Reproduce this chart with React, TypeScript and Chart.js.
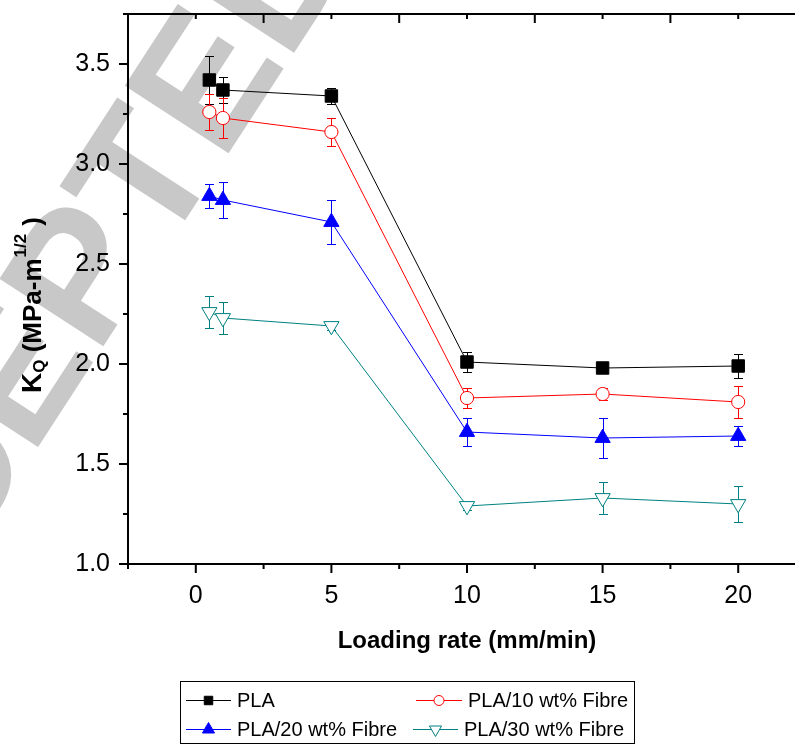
import React, { useEffect, useRef } from 'react';
import { Chart, registerables } from 'chart.js';

Chart.register(...registerables);

// ---------- data ----------
const loadingRates = [0.5, 1, 5, 10, 15, 20];

const plaValues = [3.42, 3.37, 3.34, 2.01, 1.98, 1.99];
const plaErrors = [0.12, 0.065, 0.04, 0.05, 0.01, 0.06];

const pla10Values = [3.26, 3.23, 3.16, 1.83, 1.85, 1.81];
const pla10Errors = [0.09, 0.1, 0.07, 0.05, 0.03, 0.08];

const pla20Values = [2.84, 2.82, 2.71, 1.66, 1.63, 1.64];
const pla20Errors = [0.06, 0.09, 0.11, 0.07, 0.1, 0.05];

const pla30Values = [2.26, 2.23, 2.19, 1.29, 1.33, 1.3];
const pla30Errors = [0.08, 0.08, 0.02, 0.02, 0.08, 0.09];

const seriesNames = ['PLA', 'PLA/10 wt% Fibre', 'PLA/20 wt% Fibre', 'PLA/30 wt% Fibre'];

const xMajorTicks = [0, 5, 10, 15, 20];
const xMinorTicks = [-2.5, 2.5, 7.5, 12.5, 17.5, 22.5];
const yMajorTicks = [1.0, 1.5, 2.0, 2.5, 3.0, 3.5];
const yMinorTicks = [1.25, 1.75, 2.25, 2.75, 3.25, 3.75];

const xTitle = 'Loading rate (mm/min)';
const watermarkText = 'ACCEPTED MANUSCRIPT';

// ---------- styles ----------
const FONT = '"Liberation Sans", Arial, Helvetica, sans-serif';

type Series = {
  name: string;
  values: number[];
  errors: number[];
  color: string;
  shape: 'rect' | 'circle' | 'triangle';
  filled: boolean;
  radius: number;
  rotation: number;
};

const series: Series[] = [
  { name: seriesNames[0], values: plaValues, errors: plaErrors, color: '#000000', shape: 'rect', filled: true, radius: 8.8, rotation: 0 },
  { name: seriesNames[1], values: pla10Values, errors: pla10Errors, color: '#FF0000', shape: 'circle', filled: false, radius: 6.6, rotation: 0 },
  { name: seriesNames[2], values: pla20Values, errors: pla20Errors, color: '#0000FF', shape: 'triangle', filled: true, radius: 8.8, rotation: 0 },
  { name: seriesNames[3], values: pla30Values, errors: pla30Errors, color: '#008080', shape: 'triangle', filled: false, radius: 8.8, rotation: 180 },
];

function drawMarker(ctx: CanvasRenderingContext2D, s: Series, x: number, y: number, r: number) {
  ctx.save();
  ctx.beginPath();
  if (s.shape === 'rect') {
    const h = r * Math.SQRT1_2;
    ctx.rect(x - h, y - h, 2 * h, 2 * h);
  } else if (s.shape === 'circle') {
    ctx.arc(x, y, r, 0, Math.PI * 2);
  } else {
    let a = (s.rotation * Math.PI) / 180;
    for (let i = 0; i < 3; i++) {
      const px = x + Math.sin(a) * r;
      const py = y - Math.cos(a) * r;
      if (i === 0) ctx.moveTo(px, py);
      else ctx.lineTo(px, py);
      a += (2 * Math.PI) / 3;
    }
    ctx.closePath();
  }
  ctx.fillStyle = s.filled ? s.color : '#ffffff';
  ctx.fill();
  ctx.strokeStyle = s.color;
  ctx.lineWidth = 1;
  ctx.stroke();
  ctx.restore();
}

const watermarkPlugin = {
  id: 'watermark',
  beforeDraw(chart: any) {
    const ctx: CanvasRenderingContext2D = chart.ctx;
    ctx.save();
    ctx.translate(-181, 784);
    ctx.rotate((-57 * Math.PI) / 180);
    ctx.font = `bold 180px ${FONT}`;
    ctx.fillStyle = '#c8c8c8';
    ctx.textAlign = 'left';
    ctx.textBaseline = 'alphabetic';
    ctx.fillText(watermarkText, 0, 0);
    ctx.restore();
  },
};

const errorBarPlugin = {
  id: 'errorBars',
  beforeDatasetsDraw(chart: any) {
    const ctx: CanvasRenderingContext2D = chart.ctx;
    const xs = chart.scales.x;
    const ys = chart.scales.y;
    series.forEach((s) => {
      ctx.save();
      ctx.strokeStyle = s.color;
      ctx.lineWidth = 1;
      s.values.forEach((v, j) => {
        const px = Math.round(xs.getPixelForValue(loadingRates[j])) + 0.5;
        const yt = Math.round(ys.getPixelForValue(v + s.errors[j])) + 0.5;
        const yb = Math.round(ys.getPixelForValue(v - s.errors[j])) + 0.5;
        ctx.beginPath();
        ctx.moveTo(px, yt);
        ctx.lineTo(px, yb);
        ctx.moveTo(px - 4.5, yt);
        ctx.lineTo(px + 4.5, yt);
        ctx.moveTo(px - 4.5, yb);
        ctx.lineTo(px + 4.5, yb);
        ctx.stroke();
      });
      ctx.restore();
    });
  },
};

const framePlugin = {
  id: 'frame',
  afterDraw(chart: any) {
    const ctx: CanvasRenderingContext2D = chart.ctx;
    const { left, right, top, bottom } = chart.chartArea;
    const xs = chart.scales.x;
    const ys = chart.scales.y;
    ctx.save();
    ctx.strokeStyle = '#000';
    ctx.lineWidth = 2;
    ctx.beginPath();
    ctx.moveTo(left, top - 1);
    ctx.lineTo(left, bottom + 1);
    ctx.moveTo(left - 1, bottom);
    ctx.lineTo(right + 1, bottom);
    ctx.moveTo(left - 1, top);
    ctx.lineTo(right + 1, top);
    xMajorTicks.forEach((v) => {
      const p = xs.getPixelForValue(v);
      ctx.moveTo(p, bottom);
      ctx.lineTo(p, bottom + 9);
      ctx.moveTo(p, top);
      ctx.lineTo(p, top + 5);
    });
    xMinorTicks.forEach((v) => {
      const p = xs.getPixelForValue(v);
      ctx.moveTo(p, bottom);
      ctx.lineTo(p, bottom + 5);
      ctx.moveTo(p, top);
      ctx.lineTo(p, top + 9);
    });
    yMajorTicks.forEach((v) => {
      const p = ys.getPixelForValue(v);
      ctx.moveTo(left, p);
      ctx.lineTo(left - 9, p);
    });
    yMinorTicks.forEach((v) => {
      const p = ys.getPixelForValue(v);
      ctx.moveTo(left, p);
      ctx.lineTo(left - 5, p);
    });
    ctx.stroke();
    ctx.restore();
  },
};

const titlesPlugin = {
  id: 'titles',
  afterDraw(chart: any) {
    const ctx: CanvasRenderingContext2D = chart.ctx;
    const { left, right } = chart.chartArea;
    ctx.save();
    ctx.fillStyle = '#000';
    ctx.font = `bold 24px ${FONT}`;
    ctx.textAlign = 'center';
    ctx.textBaseline = 'alphabetic';
    ctx.fillText(xTitle, (left + right) / 2, 648);

    // y title with subscript / superscript, read bottom-to-top
    const parts = [
      { t: 'K', size: 28, dy: 0, gap: 0 },
      { t: 'Q', size: 17, dy: 4, gap: 0 },
      { t: ' (MPa-m', size: 26, dy: 0, gap: 0 },
      { t: '1/2', size: 17, dy: -15, gap: 1 },
      { t: ')', size: 26, dy: 0, gap: 8 },
    ];
    ctx.translate(41, 393);
    ctx.rotate(-Math.PI / 2);
    ctx.textAlign = 'left';
    let x = 0;
    parts.forEach((p) => {
      x += p.gap;
      ctx.font = `bold ${p.size}px ${FONT}`;
      ctx.fillText(p.t, x, p.dy);
      x += ctx.measureText(p.t).width;
    });
    ctx.restore();
  },
};

const legendPlugin = {
  id: 'customLegend',
  afterDraw(chart: any) {
    const ctx: CanvasRenderingContext2D = chart.ctx;
    ctx.save();
    ctx.strokeStyle = '#000';
    ctx.lineWidth = 1;
    ctx.strokeRect(180.5, 681.5, 454, 62);
    const slots = [
      { x0: 186, x1: 231, y: 700, tx: 237 },
      { x0: 416, x1: 462, y: 700, tx: 468 },
      { x0: 186, x1: 231, y: 729, tx: 237 },
      { x0: 413, x1: 458, y: 729, tx: 464 },
    ];
    const legendRadius = [6, 5, 7, 7];
    series.forEach((s, i) => {
      const sl = slots[i];
      ctx.strokeStyle = s.color;
      ctx.lineWidth = 1;
      ctx.beginPath();
      ctx.moveTo(sl.x0, sl.y + 0.5);
      ctx.lineTo(sl.x1, sl.y + 0.5);
      ctx.stroke();
      drawMarker(ctx, s, (sl.x0 + sl.x1) / 2, sl.y + 0.5, legendRadius[i]);
      ctx.fillStyle = '#000';
      ctx.font = `20px ${FONT}`;
      ctx.textAlign = 'left';
      ctx.textBaseline = 'middle';
      ctx.fillText(s.name, sl.tx, sl.y + 1);
    });
    ctx.restore();
  },
};

export default function App() {
  const canvasRef = useRef<HTMLCanvasElement | null>(null);

  useEffect(() => {
    const canvas = canvasRef.current;
    if (!canvas) return;
    const chart = new Chart(canvas, {
      type: 'line',
      data: {
        datasets: series.map((s) => ({
          label: s.name,
          data: loadingRates.map((x, j) => ({ x, y: s.values[j] })),
          borderColor: s.color,
          backgroundColor: s.filled ? s.color : '#ffffff',
          pointBackgroundColor: s.filled ? s.color : '#ffffff',
          pointBorderColor: s.color,
          pointBorderWidth: 1,
          pointStyle: s.shape,
          pointRadius: s.radius,
          pointRotation: s.rotation,
          borderWidth: 1,
          tension: 0,
          fill: false,
        })),
      },
      options: {
        animation: false,
        responsive: false,
        devicePixelRatio: 1,
        layout: { padding: { top: 14, right: 14, left: 0, bottom: 0 } },
        plugins: {
          legend: { display: false },
          tooltip: { enabled: false },
        },
        scales: {
          x: {
            type: 'linear',
            min: -2.5,
            max: 22.5,
            grid: { display: false, drawTicks: false },
            border: { display: false },
            afterBuildTicks: (s: any) => {
              s.ticks = xMajorTicks.map((v) => ({ value: v }));
            },
            afterFit: (s: any) => {
              s.height = 181;
              s.paddingLeft = 0;
              s.paddingRight = 0;
            },
            ticks: {
              color: '#000',
              font: { family: FONT, size: 25 },
              padding: 17,
              maxRotation: 0,
              autoSkip: false,
              callback: (v: any) => String(v),
            },
          },
          y: {
            type: 'linear',
            min: 1.0,
            max: 3.75,
            grid: { display: false, drawTicks: false },
            border: { display: false },
            afterBuildTicks: (s: any) => {
              s.ticks = yMajorTicks.map((v) => ({ value: v }));
            },
            afterFit: (s: any) => {
              s.width = 128;
              s.paddingTop = 0;
              s.paddingBottom = 0;
            },
            ticks: {
              color: '#000',
              font: { family: FONT, size: 25 },
              padding: 18,
              autoSkip: false,
              callback: (v: any) => Number(v).toFixed(1),
            },
          },
        },
      },
      plugins: [watermarkPlugin, errorBarPlugin, framePlugin, titlesPlugin, legendPlugin],
    } as any);
    return () => chart.destroy();
  }, []);

  return (
    <div style={{ position: 'fixed', left: 0, top: 0, width: 795, height: 745, overflow: 'hidden', background: '#fff' }}>
      <canvas ref={canvasRef} width={820} height={745} style={{ width: 820, height: 745, display: 'block' }} />
    </div>
  );
}
